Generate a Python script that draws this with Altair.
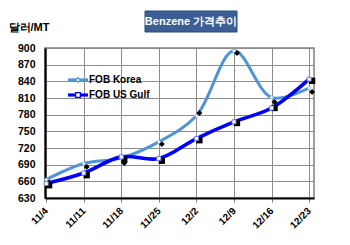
import altair as alt
import pandas as pd

dates = ["11/4", "11/11", "11/18", "11/25", "12/2", "12/9", "12/16", "12/23"]
korea = [663, 692, 702, 731, 778, 895, 811, 828]
usgulf = [656, 675, 704, 701, 737, 767, 792, 844]
korea_black = [658, 686, 693, 727, 783, 891, 803, 821]
usgulf_black = [653, 671, 699, 697, 734, 765, 792, 841]
series = ["FOB Korea", "FOB US Gulf"]
colors = ["#4f93d8", "#0000ff"]
yticks = [630, 660, 690, 720, 750, 780, 810, 840, 870, 900]

rows = []
for i, d in enumerate(dates):
    rows.append({"i": i, "date": d, "series": series[0], "v": korea[i], "b": korea_black[i]})
    rows.append({"i": i, "date": d, "series": series[1], "v": usgulf[i], "b": usgulf_black[i]})
df = pd.DataFrame(rows)

label_expr = "[" + ",".join("'%s'" % d for d in dates) + "][datum.value]"

FONT = "Liberation Sans"
x = alt.X("i:Q", scale=alt.Scale(domain=[-0.03, 7.13], nice=False, zero=False),
          axis=alt.Axis(values=list(range(len(dates))), tickCount=20, labelExpr=label_expr,
                        labelOverlap=False, labelFlush=False,
                        labelAngle=315, labelAlign="right", labelBaseline="middle",
                        labelFont=FONT, labelFontWeight="bold", labelFontSize=10,
                        labelColor="black", labelPadding=7, tickSize=4,
                        tickColor="#808080", grid=True, gridColor="#8c8c8c",
                        gridWidth=1, domainColor="black", domainWidth=2, title=None))
y = alt.Y("v:Q", scale=alt.Scale(domain=[630, 900], nice=False, zero=False),
          axis=alt.Axis(values=yticks, tickCount=20, labelOverlap=False, labelFlush=False,
                        labelFont=FONT, labelFontWeight="bold",
                        labelFontSize=10.5, labelColor="black", labelPadding=10,
                        tickSize=0, grid=True, gridColor="#8c8c8c", gridWidth=1,
                        domainColor="black", domainWidth=2,
                        title="달러/MT", titleAngle=0, titleAlign="left",
                        titleBaseline="middle", titleX=-37, titleY=-21,
                        titleFont=FONT, titleFontSize=11, titleFontWeight="bold",
                        titleColor="black"))

color = alt.Color("series:N", scale=alt.Scale(domain=series, range=colors), legend=None)

base = alt.Chart(df)
lines = base.mark_line(interpolate="catmull-rom").encode(
    x=x, y=y, color=color,
    strokeWidth=alt.StrokeWidth("series:N", scale=alt.Scale(domain=series, range=[3, 3.6]), legend=None))
pts_k = base.transform_filter(alt.datum.series == series[0]).mark_point(
    shape="diamond", filled=True, fill="white", stroke="#8fb4e8", strokeWidth=1, size=14, opacity=1
).encode(x="i:Q", y="v:Q")
pts_u = base.transform_filter(alt.datum.series == series[1]).mark_point(
    shape="square", filled=True, fill="white", stroke="#6a7fe8", strokeWidth=1, size=16, opacity=1
).encode(x="i:Q", y="v:Q")
blk_k = base.transform_filter(alt.datum.series == series[0]).mark_point(
    shape="diamond", filled=True, color="black", size=35, opacity=1, xOffset=3
).encode(x="i:Q", y="b:Q")
blk_u = base.transform_filter(alt.datum.series == series[1]).mark_point(
    shape="square", filled=True, color="black", size=40, opacity=1, xOffset=3
).encode(x="i:Q", y="b:Q")

# title box
tbox = alt.Chart(pd.DataFrame({"t": ["Benzene 가격추이"]})).mark_rect(
    color="#3b5f95", stroke="#2a4a7a", strokeWidth=1
).encode(x=alt.value(100), x2=alt.value(192), y=alt.value(-37), y2=alt.value(-16))
ttext = alt.Chart(pd.DataFrame({"t": ["Benzene 가격추이"]})).mark_text(
    color="white", font=FONT, fontWeight="bold", fontSize=11, baseline="middle", align="center"
).encode(x=alt.value(146), y=alt.value(-26), text="t:N")

# legend
leg_layers = []
for k, (name, col, shp) in enumerate(zip(series, colors, ["diamond", "square"])):
    yy = 32 + 15 * k
    ld = pd.DataFrame({"name": [name]})
    leg_layers.append(alt.Chart(ld).mark_rule(color=col, strokeWidth=3.2).encode(
        x=alt.value(23), x2=alt.value(43), y=alt.value(yy)))
    leg_layers.append(alt.Chart(ld).mark_point(
        shape=shp, filled=True, fill="white", stroke=col, strokeWidth=1.2, size=22, opacity=1
    ).encode(x=alt.value(33), y=alt.value(yy)))
    leg_layers.append(alt.Chart(ld).mark_text(
        font=FONT, fontWeight="bold", fontSize=10, align="left", baseline="middle", color="black"
    ).encode(x=alt.value(44), y=alt.value(yy), text="name:N"))

chart = alt.layer(lines, blk_k, blk_u, pts_k, pts_u, tbox, ttext, *leg_layers).properties(
    width=269, height=150,
    autosize=alt.AutoSizeParams(type="none"),
    padding={"left": 45, "top": 48, "right": 36, "bottom": 47},
    background="white",
).configure_view(stroke="#808080", strokeWidth=1.5)

chart.save("out.html", embed_options={"renderer": "svg", "actions": False})
